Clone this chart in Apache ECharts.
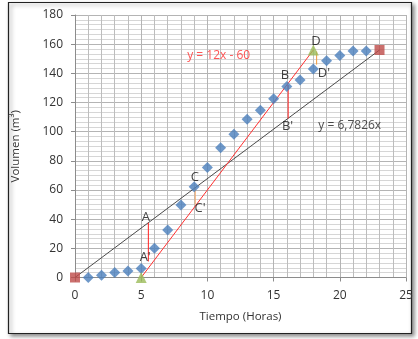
<!DOCTYPE html>
<html>
<head>
<meta charset="utf-8">
<script src="https://cdn.jsdelivr.net/npm/echarts@6/dist/echarts.min.js"></script>
<style>
  html, body { margin: 0; padding: 0; background: #fff; }
  #chart { width: 418px; height: 339px; }
</style>
</head>
<body>
<div id="chart"></div>
<script>
// Measured fill volume over time
const hours = [1, 2, 3, 4, 5, 6, 7, 8, 9, 10, 11, 12, 13, 14, 15, 16, 17, 18, 19, 20, 21, 22];
const volume = [0, 1.6, 3.4, 4.5, 6.2, 20, 32.5, 49.7, 62.2, 75.5, 89, 98.3, 108.5, 114.7, 122.5, 131, 135.5, 143, 148.6, 152.2, 155.4, 155.4];

// Average-rate line y = 6,7826x and its end points
const avgLine = [[0, 0], [23, 156]];
// Steepest tangent y = 12x - 60 and its end points
const tangentLine = [[5, 0], [18, 156]];

// Vertical distance markers between the curves
const segAA = [[5.54, 37.5], [5.54, 11]];
const segCC = [[9.08, 61.6], [9.08, 50]];
const segBB = [[16.1, 132], [16.1, 109]];
const segDD = [[18.25, 155], [18.25, 146]];

// Point labels
const pointLabels = [
  ['A', 5.36, 41], ["A'", 5.3, 14], ['C', 9.06, 68.5], ["C'", 9.45, 47.5],
  ['B', 15.86, 138.5], ["B'", 16.05, 103.5], ['D', 18.2, 162], ["D'", 18.8, 140]
];
const equationLabels = [
  ['y = 12x - 60', 10.85, 152.3, '#ff2b2b'],
  ['y = 6,7826x', 20.75, 104, '#222']
];

const FONT = 'Open Sans';
const chart = echarts.init(document.getElementById('chart'));

function lineSeries(data, color, z) {
  return {
    type: 'line', data: data, symbol: 'none', silent: true, z: z || 3,
    lineStyle: { color: color, width: 1 }, animation: false
  };
}

chart.setOption({
  animation: false,
  graphic: [{
    type: 'rect', z: -10,
    shape: { x: 8.5, y: 2.5, width: 403, height: 331 },
    style: { fill: '#fff', stroke: '#222', lineWidth: 1.2,
      shadowBlur: 4, shadowOffsetX: 2, shadowOffsetY: 2, shadowColor: 'rgba(0,0,0,0.45)' }
  }],
  grid: { left: 75, right: 12, top: 15, bottom: 61.5 },
  xAxis: {
    type: 'value', min: 0, max: 25, interval: 5,
    name: 'Tiempo (Horas)', nameLocation: 'middle', nameGap: 33,
    nameTextStyle: { fontFamily: FONT, fontSize: 11.5, color: '#333' },
    axisLine: { show: true, onZero: false, lineStyle: { color: '#8c8c8c' } },
    axisTick: { show: true, length: 4, lineStyle: { color: '#8c8c8c' } },
    axisLabel: { fontFamily: FONT, fontSize: 12, color: '#333', margin: 12 },
    splitLine: { show: true, lineStyle: { color: '#b4b4b4', width: 1 } },
    minorTick: { show: false, splitNumber: 5 },
    minorSplitLine: { show: true, lineStyle: { color: '#bdbdbd', width: 1 } }
  },
  yAxis: {
    type: 'value', min: 0, max: 180, interval: 20,
    name: 'Volumen (m³)', nameLocation: 'middle', nameGap: 53,
    nameTextStyle: { fontFamily: FONT, fontSize: 11.5, color: '#333' },
    axisLine: { show: true, onZero: false, lineStyle: { color: '#8c8c8c' } },
    axisTick: { show: true, length: 4, lineStyle: { color: '#8c8c8c' } },
    axisLabel: { fontFamily: FONT, fontSize: 12, color: '#333', margin: 12 },
    splitLine: { show: true, lineStyle: { color: '#b4b4b4', width: 1 } },
    minorTick: { show: false, splitNumber: 6 },
    minorSplitLine: { show: true, lineStyle: { color: '#d6d6d6', width: 1 } }
  },
  series: [
    lineSeries(avgLine, '#4a4a4a', 3),
    lineSeries(tangentLine, '#ff3030', 3),
    lineSeries(segAA, '#ff2020', 3),
    lineSeries(segCC, '#f7a866', 3),
    lineSeries(segBB, '#ff2020', 3),
    lineSeries(segDD, '#f39a3a', 3),
    {
      type: 'scatter', z: 5, symbol: 'diamond', symbolSize: 11,
      data: hours.map((h, i) => [h, volume[i]]),
      itemStyle: { color: '#4a7ebb' }
    },
    {
      type: 'scatter', z: 6, symbol: 'rect', symbolSize: 10,
      data: avgLine, itemStyle: { color: '#be4b48' }
    },
    {
      type: 'scatter', z: 6, symbol: 'triangle', symbolSize: 11,
      data: tangentLine, itemStyle: { color: '#9bbb59' }
    },
    {
      type: 'scatter', z: 8, symbolSize: 0, silent: true,
      data: pointLabels.map(p => ({ value: [p[1], p[2]], name: p[0] })),
      label: { show: true, position: 'inside', formatter: p => p.name,
        fontFamily: FONT, fontSize: 13, color: '#111' }
    },
    {
      type: 'scatter', z: 8, symbolSize: 0, silent: true,
      data: equationLabels.map(p => ({ value: [p[1], p[2]], name: p[0],
        label: { color: p[3] } })),
      label: { show: true, position: 'inside', formatter: p => p.name,
        fontFamily: FONT, fontSize: 12 }
    }
  ]
});
</script>
</body>
</html>
